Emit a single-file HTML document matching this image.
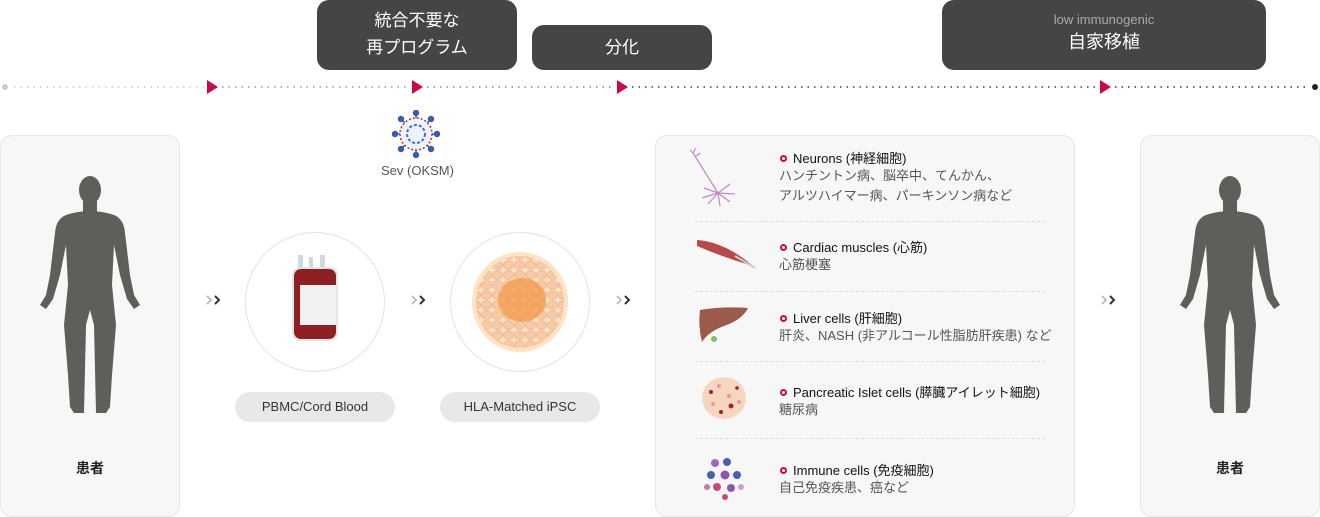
<!DOCTYPE html>
<html><head><meta charset="utf-8"><style>
*{margin:0;padding:0;box-sizing:border-box}
body{width:1320px;height:517px;background:#fff;position:relative;overflow:hidden;font-family:"Liberation Sans","Noto Sans CJK JP",sans-serif}
.a{position:absolute}
.box{background:#454545;border-radius:12px;color:#fff;text-align:center;position:absolute}
.card{position:absolute;background:#f7f7f7;border:1px solid #e6e6e6;border-radius:12px}
.circ{position:absolute;width:140px;height:140px;border-radius:50%;border:1px solid #e3e3e3;background:#fff}
.pill{position:absolute;height:30px;border-radius:15px;background:#e8e8e8;font-size:13px;color:#333;text-align:center;line-height:30px}
.chev{position:absolute}
.t{position:absolute;left:780px;font-size:13px;color:#111;white-space:nowrap}
.t b{display:inline-block;width:7px;height:7px;border:2px solid #c8094f;border-radius:50%;margin-right:6px;vertical-align:1px}
.s{position:absolute;left:779px;font-size:13px;color:#555;line-height:20px;white-space:nowrap}
.dv{position:absolute;left:695px;width:350px;border-top:1px dashed #ddd}
.lbl{position:absolute;width:180px;text-align:center;font-size:14px;font-weight:bold;color:#222}
</style></head><body>
<div class="box" style="left:317px;top:0;width:200px;height:70px;font-size:17px;line-height:27px;padding-top:7px">統合不要な<br>再プログラム</div>
<div class="box" style="left:532px;top:25px;width:180px;height:45px;font-size:17px;line-height:45px">分化</div>
<div class="box" style="left:942px;top:0;width:324px;height:70px"><div style="font-size:13px;color:#aaa;margin-top:12px">low immunogenic</div><div style="font-size:18px;margin-top:1px">自家移植</div></div>

<svg class="a" style="left:0;top:0" width="1320" height="100">
<circle cx="5" cy="87" r="3" fill="#ccc"/>
<line x1="14" y1="87" x2="205" y2="87" stroke="#ccc" stroke-width="1.5" stroke-dasharray="1.5 5"/>
<line x1="222" y1="87" x2="410" y2="87" stroke="#999" stroke-width="1.5" stroke-dasharray="1.5 5"/>
<line x1="427" y1="87" x2="615" y2="87" stroke="#888" stroke-width="1.5" stroke-dasharray="1.5 5"/>
<line x1="632" y1="87" x2="1098" y2="87" stroke="#444" stroke-width="1.5" stroke-dasharray="1.5 5"/>
<line x1="1115" y1="87" x2="1310" y2="87" stroke="#333" stroke-width="1.5" stroke-dasharray="1.5 5"/>
<circle cx="1315" cy="87" r="3" fill="#222"/>
<g fill="#c8094f"><path d="M207 80 L218 87 L207 94Z"/><path d="M412 80 L423 87 L412 94Z"/><path d="M617 80 L628 87 L617 94Z"/><path d="M1100 80 L1111 87 L1100 94Z"/></g>
</svg>

<svg class="a" style="left:392px;top:110px" width="48" height="48">
<g stroke="#3b5bb0" stroke-width="1.5" fill="#3b5bb0">
<line x1="24" y1="3" x2="24" y2="45"/><line x1="3" y1="24" x2="45" y2="24"/><line x1="9" y1="9" x2="39" y2="39"/><line x1="39" y1="9" x2="9" y2="39"/>
<circle cx="24" cy="3" r="2.5"/><circle cx="24" cy="45" r="2.5"/><circle cx="3" cy="24" r="2.5"/><circle cx="45" cy="24" r="2.5"/><circle cx="9" cy="9" r="2.5"/><circle cx="39" cy="39" r="2.5"/><circle cx="39" cy="9" r="2.5"/><circle cx="9" cy="39" r="2.5"/></g>
<circle cx="24" cy="24" r="16" fill="#eef2fb" stroke="#b0304a" stroke-width="1.5" stroke-dasharray="2 2"/>
<circle cx="24" cy="24" r="9" fill="none" stroke="#4a6cc0" stroke-width="2" stroke-dasharray="3 2"/>
</svg>
<div class="a" style="left:370px;top:163px;width:95px;text-align:center;font-size:13px;color:#555">Sev (OKSM)</div>

<div class="card" style="left:0;top:135px;width:180px;height:382px"></div>
<div class="card" style="left:1140px;top:135px;width:180px;height:382px"></div>
<svg class="a" style="left:30px;top:175px" width="120" height="245">
<g fill="#5e5f59">
<ellipse cx="60" cy="15" rx="11" ry="14"/>
<rect x="53" y="26" width="14" height="12"/>
<path d="M36 40 Q60 32 84 40 Q94 44 95 58 L100 100 L104 120 L110 130 L104 134 L97 124 L90 100 L84 70 L82 110 L86 150 L82 200 L80 232 L76 238 L66 238 L64 150 L60 135 L56 150 L54 238 L44 238 L40 232 L38 200 L34 150 L38 110 L36 70 L30 100 L23 124 L16 134 L10 130 L16 120 L20 100 L25 58 Q26 44 36 40Z"/>
</g></svg>
<svg class="a" style="left:1170px;top:175px" width="120" height="245">
<g fill="#5e5f59">
<ellipse cx="60" cy="15" rx="11" ry="14"/>
<rect x="53" y="26" width="14" height="12"/>
<path d="M36 40 Q60 32 84 40 Q94 44 95 58 L100 100 L104 120 L110 130 L104 134 L97 124 L90 100 L84 70 L82 110 L86 150 L82 200 L80 232 L76 238 L66 238 L64 150 L60 135 L56 150 L54 238 L44 238 L40 232 L38 200 L34 150 L38 110 L36 70 L30 100 L23 124 L16 134 L10 130 L16 120 L20 100 L25 58 Q26 44 36 40Z"/>
</g></svg>
<div class="lbl" style="left:0;top:458px">患者</div>
<div class="lbl" style="left:1140px;top:458px">患者</div>

<svg class="a" style="left:205px;top:294px" width="16" height="12"><path d="M2 2 L6 6 L2 10" stroke="#bbb" stroke-width="1.8" fill="none"/><path d="M10 2 L14 6 L10 10" stroke="#333" stroke-width="2" fill="none"/></svg>
<svg class="a" style="left:410px;top:294px" width="16" height="12"><path d="M2 2 L6 6 L2 10" stroke="#bbb" stroke-width="1.8" fill="none"/><path d="M10 2 L14 6 L10 10" stroke="#333" stroke-width="2" fill="none"/></svg>
<svg class="a" style="left:615px;top:294px" width="16" height="12"><path d="M2 2 L6 6 L2 10" stroke="#bbb" stroke-width="1.8" fill="none"/><path d="M10 2 L14 6 L10 10" stroke="#333" stroke-width="2" fill="none"/></svg>
<svg class="a" style="left:1100px;top:294px" width="16" height="12"><path d="M2 2 L6 6 L2 10" stroke="#bbb" stroke-width="1.8" fill="none"/><path d="M10 2 L14 6 L10 10" stroke="#333" stroke-width="2" fill="none"/></svg>

<div class="circ" style="left:245px;top:232px"></div>
<svg class="a" style="left:290px;top:255px" width="52" height="90">
<rect x="8" y="0" width="5" height="16" fill="#cfd8dd"/><rect x="19" y="2" width="4" height="14" fill="#cfd8dd"/><rect x="30" y="0" width="5" height="16" fill="#cfd8dd"/>
<rect x="2" y="12" width="46" height="74" rx="8" fill="#dfe6ea"/>
<rect x="4" y="14" width="42" height="70" rx="7" fill="#8e1f22"/>
<rect x="10" y="30" width="36" height="40" fill="#f1f1f1"/>
</svg>
<div class="circ" style="left:450px;top:232px"></div>
<svg class="a" style="left:470px;top:250px" width="100" height="105">
<defs><pattern id="c" width="11" height="10" patternUnits="userSpaceOnUse"><ellipse cx="5.5" cy="5" rx="5" ry="4.3" fill="#f6c9a8" stroke="#f0b48c" stroke-width="0.8"/></pattern></defs>
<ellipse cx="50" cy="52" rx="48" ry="50" fill="#fbe3c4"/>
<ellipse cx="50" cy="52" rx="44" ry="46" fill="url(#c)"/>
<ellipse cx="52" cy="50" rx="24" ry="22" fill="#f29a4a" opacity=".75"/>
</svg>
<div class="pill" style="left:235px;top:392px;width:160px">PBMC/Cord Blood</div>
<div class="pill" style="left:440px;top:392px;width:160px">HLA-Matched iPSC</div>

<div class="card" style="left:655px;top:135px;width:420px;height:382px"></div>
<svg class="a" style="left:690px;top:148px" width="60" height="60"><g stroke="#c488c8" stroke-width="1.2" fill="none"><path d="M3 5 L28 45"/><path d="M28 45 L14 40 M28 45 L12 50 M28 45 L18 56 M28 45 L30 58 M28 45 L40 54 M28 45 L45 46 M28 45 L40 36 M3 5 L6 0 M3 5 L0 2 M6 8 L10 5"/></g></svg>
<svg class="a" style="left:695px;top:238px" width="62" height="32"><path d="M2 2 Q30 4 58 28 Q30 20 2 8Z" fill="#b8494a"/><path d="M40 18 L60 30" stroke="#ccc" stroke-width="2"/></svg>
<svg class="a" style="left:698px;top:306px" width="52" height="36"><path d="M2 4 Q25 0 50 2 Q44 14 26 20 Q10 26 4 36 Q0 20 2 4Z" fill="#9c5a4a"/><circle cx="16" cy="33" r="3" fill="#7cc070"/></svg>
<svg class="a" style="left:701px;top:376px" width="48" height="44"><ellipse cx="23" cy="22" rx="22" ry="21" fill="#f7d6c0"/><g fill="#9a2530"><circle cx="10" cy="16" r="2"/><circle cx="30" cy="30" r="2.5"/><circle cx="20" cy="36" r="2"/><circle cx="36" cy="12" r="1.8"/></g><g fill="#e89aa0"><circle cx="18" cy="10" r="2"/><circle cx="28" cy="20" r="2.2"/><circle cx="12" cy="28" r="2"/><circle cx="38" cy="26" r="2"/></g></svg>
<svg class="a" style="left:701px;top:455px" width="48" height="46"><g><circle cx="14" cy="8" r="4" fill="#9b6bbf"/><circle cx="26" cy="7" r="4" fill="#4a5fb0"/><circle cx="10" cy="20" r="4" fill="#4a5fb0"/><circle cx="24" cy="20" r="4.5" fill="#8e55b0"/><circle cx="36" cy="20" r="4" fill="#4a5fb0"/><circle cx="16" cy="32" r="4" fill="#c44a7a"/><circle cx="30" cy="33" r="4" fill="#8e55b0"/><circle cx="6" cy="32" r="3" fill="#c77aa0"/><circle cx="24" cy="42" r="3" fill="#c44a7a"/><circle cx="40" cy="32" r="3" fill="#c7a0d0"/></g></svg>

<div class="t" style="top:148px"><b></b>Neurons (神経細胞)</div>
<div class="s" style="top:166px">ハンチントン病、脳卒中、てんかん、<br>アルツハイマー病、パーキンソン病など</div>
<div class="dv" style="top:221px"></div>
<div class="t" style="top:237px"><b></b>Cardiac muscles (心筋)</div>
<div class="s" style="top:255px">心筋梗塞</div>
<div class="dv" style="top:291px"></div>
<div class="t" style="top:308px"><b></b>Liver cells (肝細胞)</div>
<div class="s" style="top:326px">肝炎、NASH (非アルコール性脂肪肝疾患) など</div>
<div class="dv" style="top:361px"></div>
<div class="t" style="top:382px"><b></b>Pancreatic Islet cells (膵臓アイレット細胞)</div>
<div class="s" style="top:400px">糖尿病</div>
<div class="dv" style="top:438px"></div>
<div class="t" style="top:460px"><b></b>Immune cells (免疫細胞)</div>
<div class="s" style="top:478px">自己免疫疾患、癌など</div>
</body></html>
